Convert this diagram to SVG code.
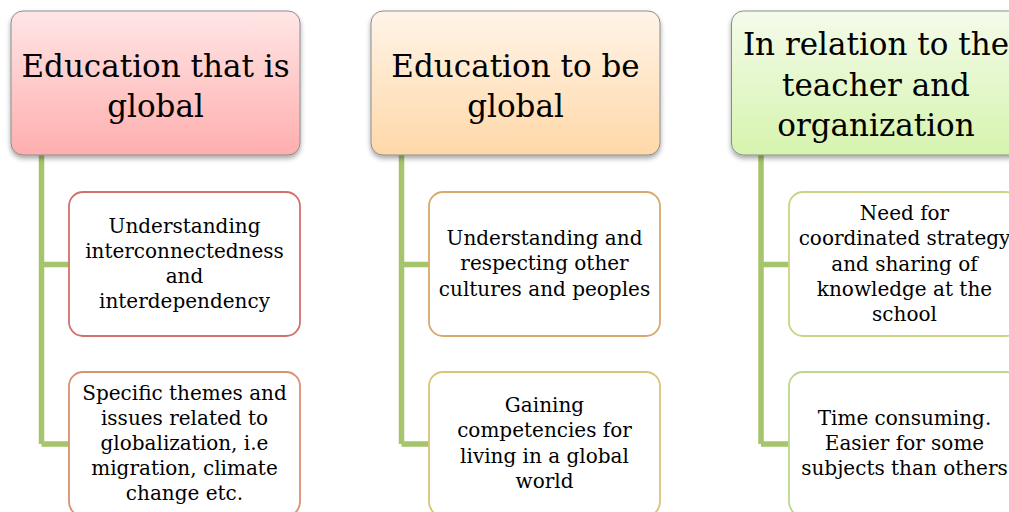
<svg xmlns="http://www.w3.org/2000/svg" width="1009" height="512" viewBox="0 0 1009 512">
<style>
  .hd { stroke: #8C8C8C; stroke-width: 1; filter: url(#sh); }
  .ch { fill: #FFFFFF; stroke-width: 1.8; }
  .conn { fill: none; stroke: #A5C46B; stroke-width: 5.5; stroke-linejoin: miter; }
  text { font-family: "DejaVu Serif", "Liberation Serif", serif; fill: #000; text-anchor: middle; }
  .ht { font-size: 31px; }
  .ct { font-size: 20px; }
</style>
<defs>
  <linearGradient id="g1" x1="0" y1="0" x2="0" y2="1">
    <stop offset="0" stop-color="#FFE6E6"/>
    <stop offset="1" stop-color="#FFAEAE"/>
  </linearGradient>
  <linearGradient id="g2" x1="0" y1="0" x2="0" y2="1">
    <stop offset="0" stop-color="#FFF4E8"/>
    <stop offset="1" stop-color="#FFD8A8"/>
  </linearGradient>
  <linearGradient id="g3" x1="0" y1="0" x2="0" y2="1">
    <stop offset="0" stop-color="#F4FBEA"/>
    <stop offset="1" stop-color="#D6F4AE"/>
  </linearGradient>
  <filter id="sh" x="-10%" y="-10%" width="120%" height="130%">
    <feDropShadow dx="0" dy="3" stdDeviation="2.5" flood-color="#000" flood-opacity="0.35"/>
  </filter>
</defs>

<g id="connectors">
  <path class="conn" d="M41.5 155 V444 M41.5 264.5 H69 M41.5 444 H69"/>
  <path class="conn" d="M401.5 155 V444 M401.5 264.5 H429 M401.5 444 H429"/>
  <path class="conn" d="M761 155 V444 M761 264.5 H789 M761 444 H789"/>
</g>

<g id="header1">
  <rect class="hd" x="11" y="11" width="289" height="144" rx="12" fill="url(#g1)"/>
  <text class="ht" x="155.5" y="77">Education that is</text>
  <text class="ht" x="155.5" y="117">global</text>
</g>
<g id="header2">
  <rect class="hd" x="371" y="11" width="289" height="144" rx="12" fill="url(#g2)"/>
  <text class="ht" x="515.5" y="77">Education to be</text>
  <text class="ht" x="515.5" y="117">global</text>
</g>
<g id="header3">
  <rect class="hd" x="731.5" y="11" width="289" height="144" rx="12" fill="url(#g3)"/>
  <text class="ht" x="876" y="55">In relation to the</text>
  <text class="ht" x="876" y="96">teacher and</text>
  <text class="ht" x="876" y="136">organization</text>
</g>

<g id="child1a">
  <rect class="ch" x="69" y="192" width="231" height="144" rx="14" stroke="#D2706B"/>
  <text class="ct" x="184.5" y="233">Understanding</text>
  <text class="ct" x="184.5" y="258">interconnectedness</text>
  <text class="ct" x="184.5" y="283">and</text>
  <text class="ct" x="184.5" y="308">interdependency</text>
</g>
<g id="child1b">
  <rect class="ch" x="69" y="372" width="231" height="144" rx="14" stroke="#D99170"/>
  <text class="ct" x="184.5" y="400">Specific themes and</text>
  <text class="ct" x="184.5" y="425">issues related to</text>
  <text class="ct" x="184.5" y="450">globalization, i.e</text>
  <text class="ct" x="184.5" y="475">migration, climate</text>
  <text class="ct" x="184.5" y="500">change etc.</text>
</g>

<g id="child2a">
  <rect class="ch" x="429" y="192" width="231" height="144" rx="14" stroke="#D8A86C"/>
  <text class="ct" x="544.5" y="245">Understanding and</text>
  <text class="ct" x="544.5" y="270">respecting other</text>
  <text class="ct" x="544.5" y="296">cultures and peoples</text>
</g>
<g id="child2b">
  <rect class="ch" x="429" y="372" width="231" height="144" rx="14" stroke="#D8C57A"/>
  <text class="ct" x="544.5" y="412">Gaining</text>
  <text class="ct" x="544.5" y="437">competencies for</text>
  <text class="ct" x="544.5" y="463">living in a global</text>
  <text class="ct" x="544.5" y="488">world</text>
</g>

<g id="child3a">
  <rect class="ch" x="789" y="192" width="231" height="144" rx="14" stroke="#CAD386"/>
  <text class="ct" x="904.5" y="220">Need for</text>
  <text class="ct" x="904.5" y="245">coordinated strategy</text>
  <text class="ct" x="904.5" y="271">and sharing of</text>
  <text class="ct" x="904.5" y="296">knowledge at the</text>
  <text class="ct" x="904.5" y="321">school</text>
</g>
<g id="child3b">
  <rect class="ch" x="789" y="372" width="231" height="144" rx="14" stroke="#BBD88E"/>
  <text class="ct" x="904.5" y="425">Time consuming.</text>
  <text class="ct" x="904.5" y="450">Easier for some</text>
  <text class="ct" x="904.5" y="475">subjects than others</text>
</g>
</svg>
